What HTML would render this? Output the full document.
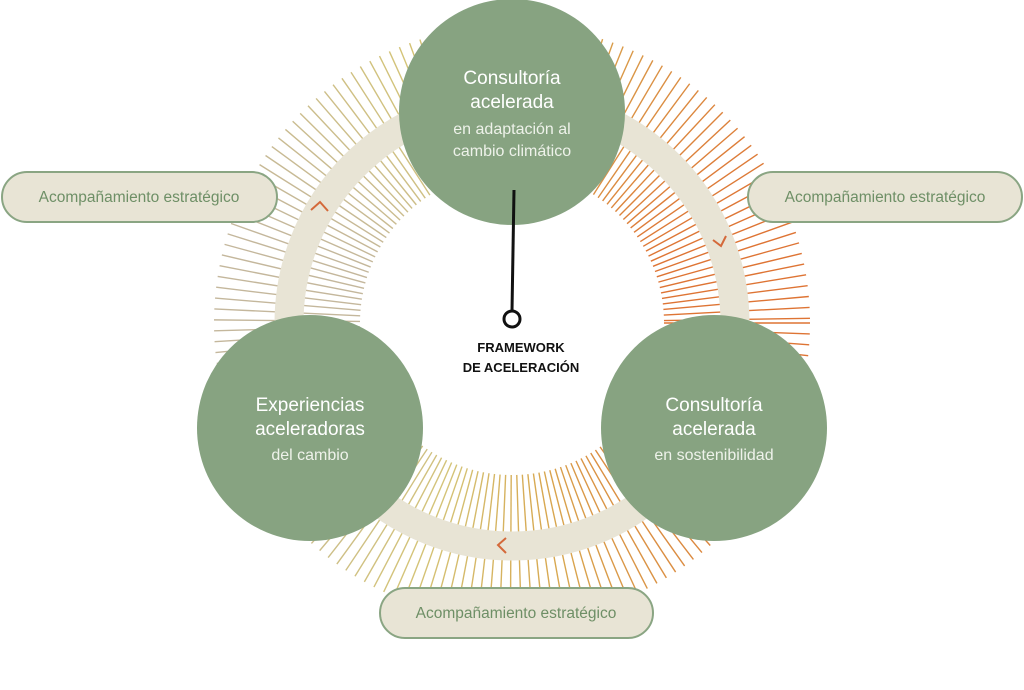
<!DOCTYPE html>
<html><head><meta charset="utf-8">
<style>
html,body{margin:0;padding:0;background:#fff;}
svg{display:block;}
text{font-family:"Liberation Sans","DejaVu Sans",sans-serif;}
</style></head>
<body>
<svg id="s" width="1024" height="690" viewBox="0 0 1024 690" xmlns="http://www.w3.org/2000/svg">
<g id="rays"></g>
<circle cx="512" cy="323" r="223" fill="none" stroke="#e8e4d5" stroke-width="29"/>
<g fill="none" stroke="#d4693a" stroke-width="2">
<polyline points="311,210 320,202 328,211"/>
<polyline points="713,240 721,246 726,236"/>
<polyline points="506,538 498,545 506,553"/>
</g>
<g fill="#e8e4d5" stroke="#8aa583" stroke-width="2">
<rect x="2" y="172" width="275" height="50" rx="25"/>
<rect x="748" y="172" width="274" height="50" rx="25"/>
<rect x="380" y="588" width="273" height="50" rx="25"/>
</g>
<g fill="#6e8f66" font-size="15.5" text-anchor="middle">
<text x="139" y="202">Acompañamiento estratégico</text>
<text x="885" y="202">Acompañamiento estratégico</text>
<text x="516" y="618">Acompañamiento estratégico</text>
</g>
<g fill="#87a381">
<circle cx="512" cy="112" r="113"/>
<circle cx="310" cy="428" r="113"/>
<circle cx="714" cy="428" r="113"/>
</g>
<g fill="#fff" text-anchor="middle">
<text x="512" y="84" font-size="19">Consultoría</text>
<text x="512" y="108" font-size="19">acelerada</text>
<text x="512" y="134" font-size="16" fill="#eef2ea">en adaptación al</text>
<text x="512" y="156" font-size="16" fill="#eef2ea">cambio climático</text>
<text x="310" y="411" font-size="19">Experiencias</text>
<text x="310" y="435" font-size="19">aceleradoras</text>
<text x="310" y="460" font-size="16" fill="#eef2ea">del cambio</text>
<text x="714" y="411" font-size="19">Consultoría</text>
<text x="714" y="435" font-size="19">acelerada</text>
<text x="714" y="460" font-size="16" fill="#eef2ea">en sostenibilidad</text>
</g>
<line x1="514" y1="190" x2="512" y2="311" stroke="#111" stroke-width="3"/>
<circle cx="512" cy="319" r="8" fill="#fff" stroke="#111" stroke-width="3"/>
<g fill="#111" font-size="13" font-weight="bold" text-anchor="middle">
<text x="521" y="352">FRAMEWORK</text>
<text x="521" y="372">DE ACELERACIÓN</text>
</g>
<script>
(function(){
var g=document.getElementById('rays'),cx=512,cy=323,ns='http://www.w3.org/2000/svg';
function lerp(a,b,t){return a.map(function(v,i){return Math.round(v+(b[i]-v)*t);});}
var c1=[196,183,156],c2=[212,196,120],c3=[216,168,80],c4=[222,116,52];
for(var d=0;d<360;d+=2.1){
 var a=d*Math.PI/180,ca=Math.cos(a),sa=Math.sin(a);
 var x=cx+225*ca,t=(x-300)/420;t=Math.max(0,Math.min(1,t));
 var col;
 if(t<0.3)col=lerp(c1,c2,t/0.3);else if(t<0.6)col=lerp(c2,c3,(t-0.3)/0.3);else col=lerp(c3,c4,(t-0.6)/0.4);
 var l=document.createElementNS(ns,'line');
 l.setAttribute('x1',cx+152*ca);l.setAttribute('y1',cy+152*sa);
 l.setAttribute('x2',cx+298*ca);l.setAttribute('y2',cy+298*sa);
 l.setAttribute('stroke','rgb('+col.join(',')+')');l.setAttribute('stroke-width','1.4');
 g.appendChild(l);
}
})();
</script>
</svg>
</body></html>
